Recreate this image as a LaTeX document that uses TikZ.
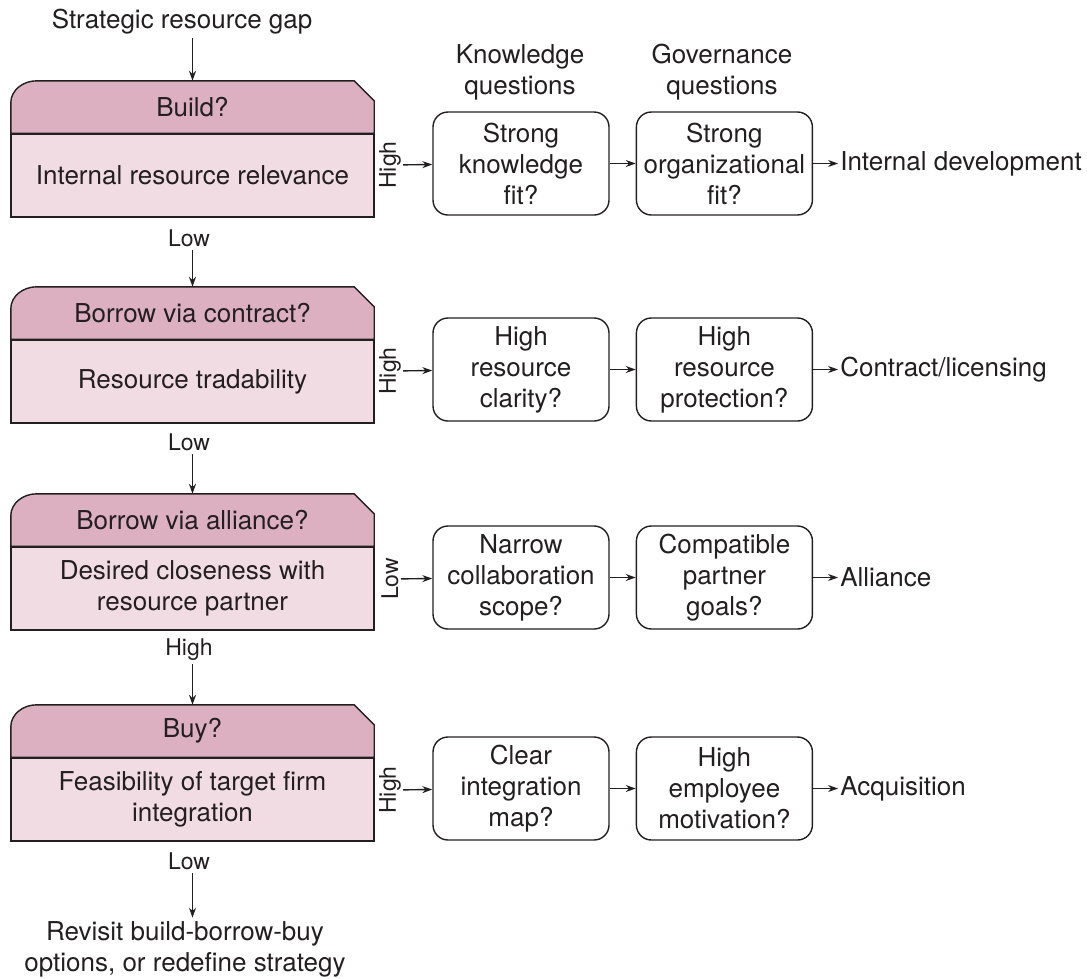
\documentclass[tikz,border=0pt]{standalone}
\usepackage{fontspec}
\setmainfont{TeX Gyre Heros}
\usetikzlibrary{arrows.meta,positioning,backgrounds}
\definecolor{hdrpink}{HTML}{DCB0C0}
\definecolor{bodypink}{HTML}{F2DCE4}
\definecolor{ink}{HTML}{231F20}

\tikzset{
  every node/.style={font=\fontsize{26}{31}\selectfont, text=ink},
  small/.style={font=\fontsize{23}{27}\selectfont},
  flow/.style={draw=ink, line width=1.4pt, -{Stealth[length=10pt,width=7pt]}},
  head/.style={minimum width=363pt, minimum height=52pt, inner sep=0pt},
  stage/.style={draw=ink, line width=1.4pt, fill=bodypink, minimum width=363pt,
    minimum height=83pt, inner sep=0pt, align=center},
  question/.style={draw=ink, line width=1.4pt, rounded corners=15pt, minimum width=176pt,
    minimum height=103pt, inner sep=0pt, align=center},
  side/.style={small, rotate=90, inner sep=2pt},
  outcome/.style={inner sep=2pt, anchor=west},
}

\begin{document}
\begin{tikzpicture}[x=1pt, y=1pt]
  \useasboundingbox (0,0) rectangle (1087,-978);

  % column titles
  \node[align=center] (kq) at (520,-72.5) {Knowledge\\questions};
  \node[align=center] (gq) at (722,-72.5) {Governance\\questions};

  % left column: the four stages
  \node (gap) at (182,-22) {Strategic resource gap};
  \node[head] (h1) at (192.5,-107) {Build?};
  \node[stage, below=0pt of h1] (b1) {Internal resource relevance};
  \node[small] (lo1) at (189,-238) {Low};
  \node[head] (h2) at (192.5,-313) {Borrow via contract?};
  \node[stage, below=0pt of h2] (b2) {Resource tradability};
  \node[small] (lo2) at (189,-442) {Low};
  \node[head] (h3) at (192.5,-520) {Borrow via alliance?};
  \node[stage, below=0pt of h3] (b3) {Desired closeness with\\resource partner};
  \node[small] (hi3) at (189,-650) {High};
  \node[head] (h4) at (192.5,-731) {Buy?};
  \node[stage, below=0pt of h4] (b4) {Feasibility of target firm\\integration};
  \node[small] (lo4) at (189,-861) {Low};
  \node[align=center] (end) at (185,-949) {Revisit build-borrow-buy\\options, or redefine strategy};

  % header tabs behind the titles
  \begin{scope}[on background layer]
    \foreach \h in {h1,h2,h3,h4}
      \draw[draw=ink, line width=1.4pt, fill=hdrpink] (\h.south west)
        -- ([yshift=-22pt]\h.north west) arc[start angle=180, end angle=90, x radius=26pt, y radius=22pt]
        -- ([xshift=-20pt]\h.north east) -- ([yshift=-20pt]\h.north east)
        -- (\h.south east) -- cycle;
  \end{scope}

  % question boxes
  \node[question] (k1) at (521,-163.5) {Strong\\knowledge\\fit?};
  \node[question, right=26pt of k1] (g1) {Strong\\organizational\\fit?};
  \node[question] (k2) at (521,-369.5) {High\\resource\\clarity?};
  \node[question, right=26pt of k2] (g2) {High\\resource\\protection?};
  \node[question] (k3) at (521,-577.5) {Narrow\\collaboration\\scope?};
  \node[question, right=26pt of k3] (g3) {Compatible\\partner\\goals?};
  \node[question] (k4) at (521,-788.5) {Clear\\integration\\map?};
  \node[question, right=26pt of k4] (g4) {High\\employee\\motivation?};

  \node[side] (s1) at (390,-165) {High};
  \node[side] (s2) at (390,-371) {High};
  \node[side] (s3) at (390,-579) {Low};
  \node[side] (s4) at (390,-790) {High};

  \node[outcome, right=25pt of g1] (o1) {Internal development};
  \node[outcome, right=25pt of g2] (o2) {Contract/licensing};
  \node[outcome, right=25pt of g3] (o3) {Alliance};
  \node[outcome, right=25pt of g4] (o4) {Acquisition};

  % arrows
  \draw[flow] (gap.south -| h1.north) -- (h1.north);
  \draw[flow] (lo1.south -| h2.north) -- (h2.north);
  \draw[flow] (lo2.south -| h3.north) -- (h3.north);
  \draw[flow] (hi3.south -| h4.north) -- (h4.north);
  \draw[flow] (lo4.south -| h4.north) -- (end.north -| h4.north);
  \foreach \i in {1,2,3,4} {
    \draw[flow] (s\i) -- (k\i);
    \draw[flow] (k\i) -- (g\i);
    \draw[flow] (g\i) -- (o\i);
  }
\end{tikzpicture}
\end{document}
